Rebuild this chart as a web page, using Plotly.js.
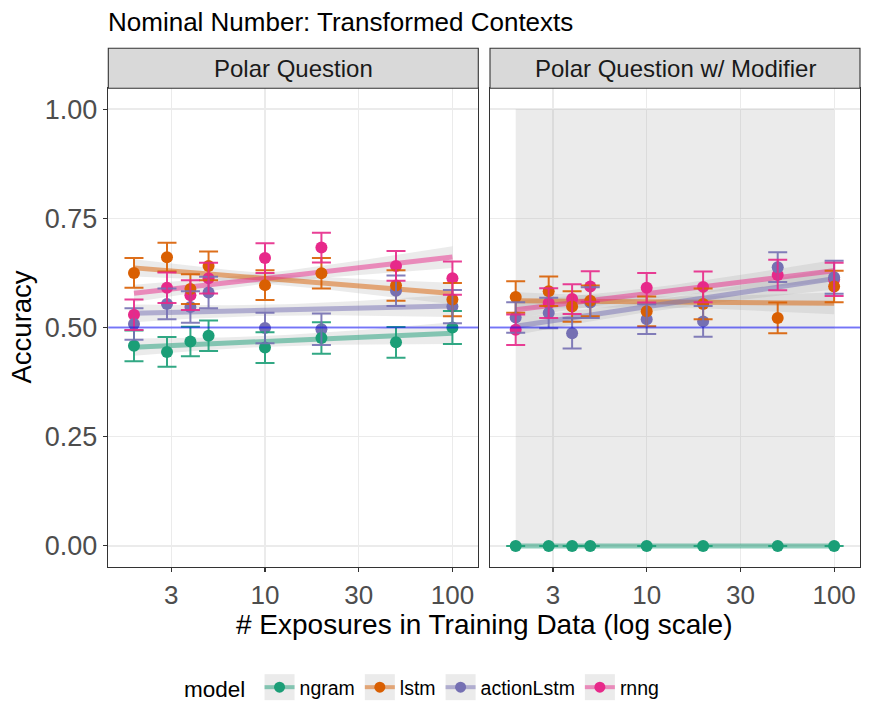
<!DOCTYPE html>
<html>
<head>
<meta charset="utf-8">
<script src="https://cdn.plot.ly/plotly-3.0.1.min.js"></script>
<style>html,body{margin:0;padding:0;background:#fff;}#chart{width:872px;height:727px;}</style>
</head>
<body>
<div id="chart"></div>
<script>
// ---------------- data ----------------
const exposures = [2, 3, 4, 5, 10, 20, 50, 100];
const models = ['ngram', 'lstm', 'actionLstm', 'rnng'];
const modelColors = ['#1B9E77', '#D95F02', '#7570B3', '#E7298A'];
const panelNames = ['Polar Question', 'Polar Question w/ Modifier'];
const xTickVals = [3.1623, 10, 31.623, 100];
const xTickText = ['3', '10', '30', '100'];
const yTickVals = [0, 0.25, 0.5, 0.75, 1];
const yTickText = ['0.00', '0.25', '0.50', '0.75', '1.00'];
const chanceLevel = 0.5;

// Panel 1: Polar Question
const polarNgram      = [0.458, 0.444, 0.468, 0.481, 0.454, 0.476, 0.466, 0.500];
const polarLstm       = [0.625, 0.661, 0.588, 0.641, 0.597, 0.624, 0.596, 0.564];
const polarActionLstm = [0.508, 0.554, 0.547, 0.580, 0.499, 0.496, 0.584, 0.548];
const polarRnng       = [0.529, 0.591, 0.574, 0.613, 0.659, 0.683, 0.641, 0.613];
const polarNgramErr      = [0.035, 0.034, 0.034, 0.035, 0.035, 0.036, 0.035, 0.038];
const polarLstmErr       = [0.034, 0.033, 0.034, 0.033, 0.034, 0.035, 0.035, 0.038];
const polarActionLstmErr = [0.036, 0.035, 0.036, 0.036, 0.035, 0.036, 0.035, 0.038];
const polarRnngErr       = [0.035, 0.035, 0.034, 0.035, 0.034, 0.034, 0.034, 0.038];

// Panel 2: Polar Question w/ Modifier
const modNgram      = [0, 0, 0, 0, 0, 0, 0, 0];
const modLstm       = [0.570, 0.583, 0.548, 0.561, 0.537, 0.554, 0.522, 0.594];
const modActionLstm = [0.523, 0.533, 0.487, 0.557, 0.519, 0.514, 0.638, 0.615];
const modRnng       = [0.495, 0.556, 0.565, 0.594, 0.591, 0.593, 0.620, 0.610];
const modNgramErr      = [0, 0, 0, 0, 0, 0, 0, 0];
const modLstmErr       = [0.036, 0.034, 0.035, 0.035, 0.034, 0.035, 0.035, 0.036];
const modActionLstmErr = [0.035, 0.035, 0.035, 0.035, 0.034, 0.035, 0.034, 0.038];
const modRnngErr       = [0.035, 0.034, 0.034, 0.035, 0.034, 0.035, 0.035, 0.038];
// degenerate confidence band of the all-zero ngram fit in panel 2 (lower, upper)
const modNgramBand = [0, 1];

const panelSeries = [
  [polarNgram, polarLstm, polarActionLstm, polarRnng],
  [modNgram, modLstm, modActionLstm, modRnng]
];
const panelErrors = [
  [polarNgramErr, polarLstmErr, polarActionLstmErr, polarRnngErr],
  [modNgramErr, modLstmErr, modActionLstmErr, modRnngErr]
];
const bandOverrides = [[null, null, null, null], [modNgramBand, null, null, null]];

// ---------------- helpers ----------------
function rgba(hex, a) {
  const r = parseInt(hex.slice(1, 3), 16), g = parseInt(hex.slice(3, 5), 16), b = parseInt(hex.slice(5, 7), 16);
  return 'rgba(' + r + ',' + g + ',' + b + ',' + a + ')';
}
function linearFit(xv, yv, ev) {
  const l = xv.map(Math.log10);
  const n = l.length;
  const lbar = l.reduce((s, v) => s + v, 0) / n;
  const ybar = yv.reduce((s, v) => s + v, 0) / n;
  let sxx = 0, sxy = 0;
  for (let i = 0; i < n; i++) { sxx += (l[i] - lbar) ** 2; sxy += (l[i] - lbar) * (yv[i] - ybar); }
  const b = sxy / sxx;
  const ebar = ev.reduce((s, v) => s + v, 0) / n;
  return {
    at: lx => ybar + b * (lx - lbar),
    half: lx => ebar * Math.sqrt(1 / n + (lx - lbar) ** 2 / sxx)
  };
}

const font = 'Liberation Sans, Arial, Helvetica, sans-serif';
const traces = [];
const nSamp = 41;
const lMin = Math.log10(exposures[0]), lMax = Math.log10(exposures[exposures.length - 1]);

panelSeries.forEach((series, p) => {
  const xa = p === 0 ? 'x' : 'x2', ya = p === 0 ? 'y' : 'y2';
  const ribbons = [], lines = [];
  series.forEach((ys, m) => {
    const f = linearFit(exposures, ys, panelErrors[p][m]);
    const sx = [], fitY = [], lo = [], hi = [];
    for (let k = 0; k < nSamp; k++) {
      const lx = lMin + (lMax - lMin) * k / (nSamp - 1);
      sx.push(Math.pow(10, lx));
      const c = f.at(lx);
      fitY.push(c);
      const ov = bandOverrides[p][m];
      if (ov) { lo.push(ov[0]); hi.push(ov[1]); }
      else { lo.push(c - f.half(lx)); hi.push(c + f.half(lx)); }
    }
    ribbons.push({
      x: sx.concat(sx.slice().reverse()), y: hi.concat(lo.slice().reverse()),
      xaxis: xa, yaxis: ya, type: 'scatter', mode: 'lines', fill: 'toself',
      fillcolor: 'rgba(153,153,153,0.2)', line: {width: 0}, hoverinfo: 'skip', showlegend: false
    });
    lines.push({
      x: sx, y: fitY, xaxis: xa, yaxis: ya, type: 'scatter', mode: 'lines',
      line: {color: rgba(modelColors[m], 0.5), width: 5}, hoverinfo: 'skip', showlegend: false
    });
  });
  ribbons.forEach(t => traces.push(t));
  lines.forEach(t => traces.push(t));
  // points (drawn rnng first, ngram last)
  for (let m = series.length - 1; m >= 0; m--) {
    traces.push({
      x: exposures, y: series[m], xaxis: xa, yaxis: ya, type: 'scatter', mode: 'markers',
      marker: {color: modelColors[m], size: 12}, name: models[m], showlegend: false
    });
  }
  // error bars on top
  series.forEach((ys, m) => {
    traces.push({
      x: exposures, y: ys, xaxis: xa, yaxis: ya, type: 'scatter', mode: 'markers',
      marker: {color: 'rgba(0,0,0,0)', size: 1},
      error_y: {type: 'data', array: panelErrors[p][m], visible: true, color: rgba(modelColors[m], 0.9), thickness: 2, width: 9.5},
      hoverinfo: 'skip', showlegend: false
    });
  });
});

// legend entries
models.forEach((m, i) => {
  traces.push({
    x: [null], y: [null], type: 'scatter', mode: 'lines+markers', name: m,
    line: {color: rgba(modelColors[i], 0.5), width: 4}, marker: {color: modelColors[i], size: 11},
    showlegend: true
  });
});

// ---------------- layout ----------------
const W = 872, H = 727;
const px = v => v / W, py = v => (H - v) / H;
const dom1 = [px(108.3), px(478.3)], dom2 = [px(490), px(860)];
const yDom = [py(566.7), py(88.3)];
const stripTop = py(48.3);

const xCommon = {
  type: 'log', range: [0.164, 2.138], tickvals: xTickVals, ticktext: xTickText,
  showgrid: true, gridcolor: '#ebebeb', gridwidth: 1.2, zeroline: false,
  showline: true, mirror: true, linecolor: '#333333', linewidth: 1.1,
  ticks: 'outside', ticklen: 4.5, tickcolor: '#333333', tickwidth: 1.1,
  tickfont: {family: font, size: 26, color: '#4d4d4d'}, fixedrange: true
};
const yCommon = {
  range: [-0.0476, 1.0476], domain: yDom, tickvals: yTickVals, ticktext: yTickText,
  showgrid: true, gridcolor: '#ebebeb', gridwidth: 1.2, zeroline: false,
  showline: true, mirror: true, linecolor: '#333333', linewidth: 1.1,
  tickcolor: '#333333', tickwidth: 1.1, ticklen: 4.5,
  tickfont: {family: font, size: 27, color: '#4d4d4d'}, fixedrange: true
};

const shapes = [];
const annotations = [];
[dom1, dom2].forEach((d, i) => {
  shapes.push({type: 'rect', xref: 'paper', yref: 'paper', x0: d[0], x1: d[1], y0: yDom[1], y1: stripTop,
    fillcolor: '#d9d9d9', line: {color: '#333333', width: 1.1}, layer: 'above'});
  annotations.push({text: panelNames[i], xref: 'paper', yref: 'paper', x: (d[0] + d[1]) / 2, y: (yDom[1] + stripTop) / 2,
    xanchor: 'center', yanchor: 'middle', showarrow: false, font: {family: font, size: 24, color: '#1a1a1a'}});
  shapes.push({type: 'line', xref: (i === 0 ? 'x' : 'x2') + ' domain', yref: i === 0 ? 'y' : 'y2',
    x0: 0, x1: 1, y0: chanceLevel, y1: chanceLevel, line: {color: 'rgba(0,0,255,0.5)', width: 2}, layer: 'above'});
});
annotations.push({text: 'Nominal Number: Transformed Contexts', xref: 'paper', yref: 'paper', x: px(106), y: py(22),
  xanchor: 'left', yanchor: 'middle', showarrow: false, font: {family: font, size: 26, color: '#000'}});
annotations.push({text: '# Exposures in Training Data (log scale)', xref: 'paper', yref: 'paper', x: px(484), y: py(624),
  xanchor: 'center', yanchor: 'middle', showarrow: false, font: {family: font, size: 28, color: '#000'}});
annotations.push({text: 'Accuracy', xref: 'paper', yref: 'paper', x: px(21), y: py(327.5), textangle: -90,
  xanchor: 'center', yanchor: 'middle', showarrow: false, font: {family: font, size: 27.5, color: '#000'}});

const layout = {
  width: W, height: H, margin: {l: 0, r: 0, t: 0, b: 0},
  paper_bgcolor: '#ffffff', plot_bgcolor: '#ffffff',
  font: {family: font},
  xaxis: Object.assign({}, xCommon, {domain: dom1, anchor: 'y'}),
  xaxis2: Object.assign({}, xCommon, {domain: dom2, anchor: 'y2'}),
  yaxis: Object.assign({}, yCommon, {anchor: 'x', ticks: 'outside'}),
  yaxis2: Object.assign({}, yCommon, {anchor: 'x2', ticks: '', showticklabels: false, matches: 'y'}),
  showlegend: true,
  legend: {orientation: 'h', x: px(423), xanchor: 'center', y: py(688), yanchor: 'middle',
    font: {family: font, size: 19.5, color: '#000'},
    title: {text: 'model ', side: 'left', font: {family: font, size: 22.5, color: '#000'}},
    bgcolor: 'rgba(0,0,0,0)', itemclick: false, itemdoubleclick: false},
  shapes: shapes, annotations: annotations
};

Plotly.newPlot('chart', traces, layout, {staticPlot: true, displayModeBar: false}).then(gd => {
  // grey key backgrounds behind the legend symbols, placed where plotly drew them
  const gRect = gd.getBoundingClientRect();
  const keys = [];
  gd.querySelectorAll('.legend .traces').forEach(tr => {
    const pt = tr.querySelector('.legendpoints path');
    if (!pt) return;
    const r = pt.getBoundingClientRect();
    const cx = (r.left + r.right) / 2 - gRect.left, cy = (r.top + r.bottom) / 2 - gRect.top;
    keys.push({type: 'rect', xref: 'paper', yref: 'paper', x0: px(cx - 15), x1: px(cx + 15), y0: py(cy + 13), y1: py(cy - 13),
      fillcolor: '#ebebeb', line: {width: 0}, layer: 'above'});
  });
  return Plotly.relayout(gd, {shapes: shapes.concat(keys)});
});
</script>
</body>
</html>
